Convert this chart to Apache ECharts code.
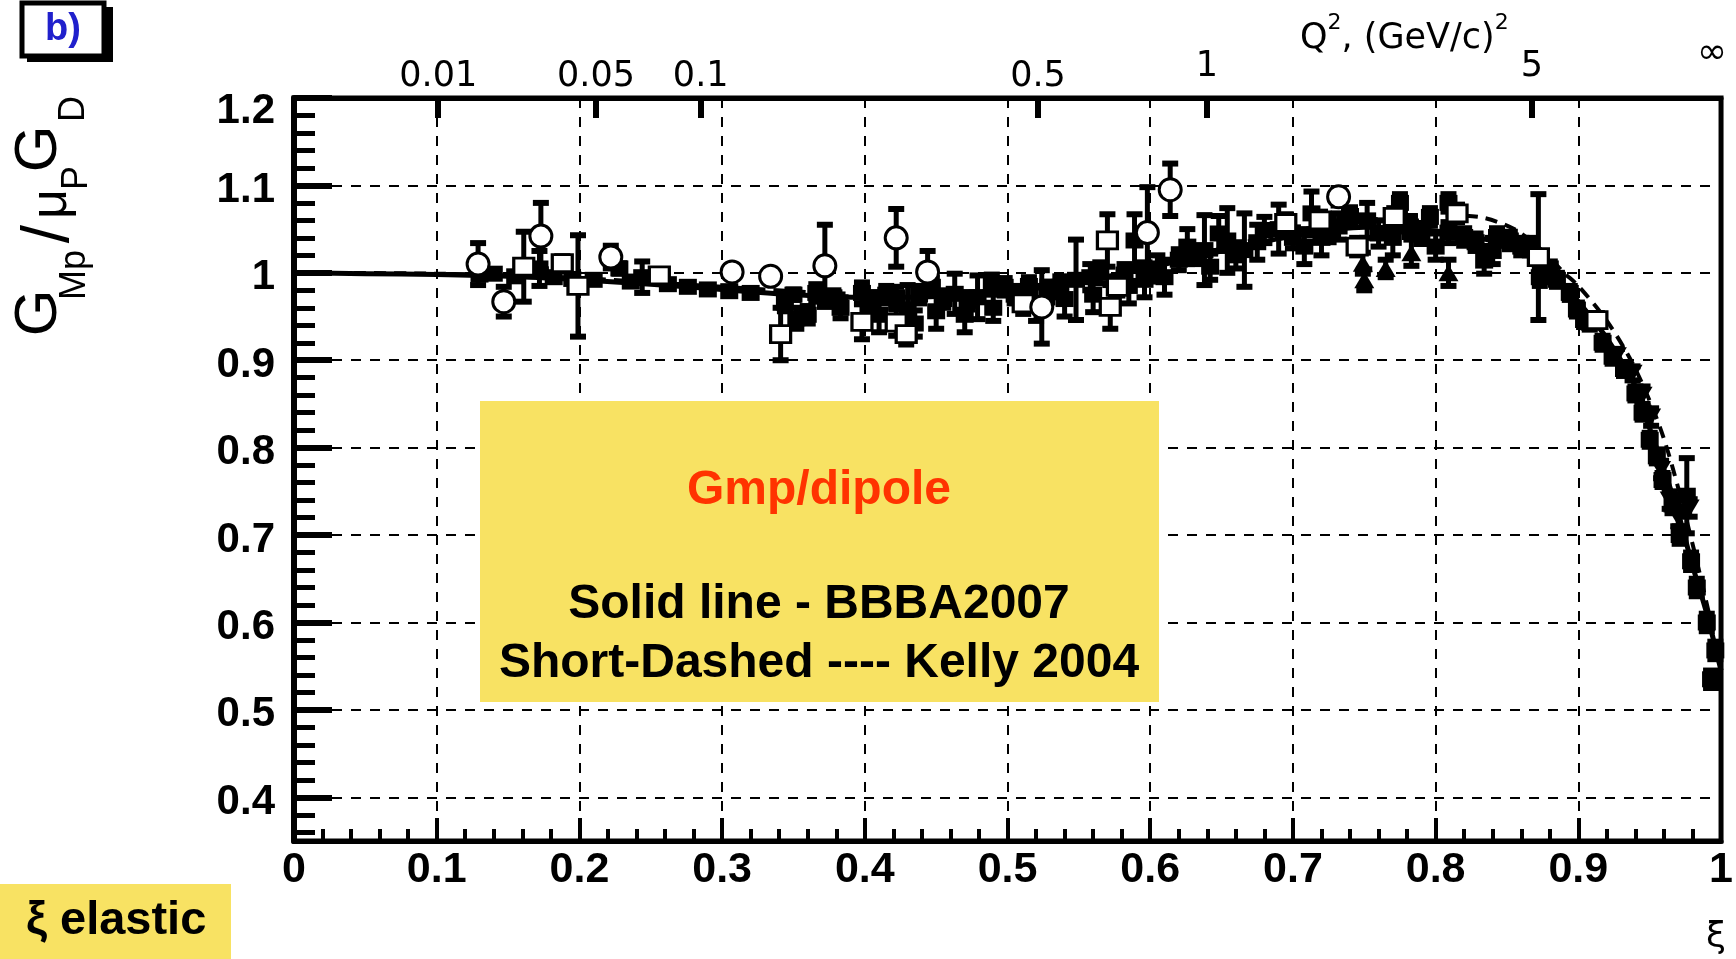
<!DOCTYPE html>
<html><head><meta charset="utf-8">
<script src="https://cdn.jsdelivr.net/npm/echarts@6/dist/echarts.min.js"></script>
<style>html,body{margin:0;padding:0;background:#fff}#c{width:1736px;height:959px}</style>
</head><body><div id="c"></div>
<script>
// ---------- data ----------
const yTickValues = [0.4, 0.5, 0.6, 0.7, 0.8, 0.9, 1, 1.1, 1.2];
const q2TickValues = [0.01, 0.05, 0.1, 0.5, 1, 5];
const q2TickLabels = ['0.01', '0.05', '0.1', '0.5', '1', '5'];

// [xi, GMp/muGD, error]
const openCircles = [
  [0.129,1.010,0.024],[0.147,0.967,0.017],[0.173,1.042,0.038],[0.222,1.018,0.013],
  [0.307,1.001,0.005],[0.334,0.996,0.005],[0.372,1.008,0.047],[0.422,1.040,0.033],
  [0.444,1.001,0.024],[0.524,0.961,0.042],[0.598,1.046,0.052],[0.614,1.095,0.030],
  [0.732,1.087,0.010]
];
const openSquares = [
  [0.161,1.007,0.040],[0.188,1.011,0.008],[0.199,0.985,0.058],[0.256,0.997,0.006],
  [0.341,0.930,0.030],[0.398,0.944,0.020],[0.422,0.943,0.015],[0.429,0.930,0.012],
  [0.511,0.965,0.012],[0.570,1.037,0.030],[0.572,0.961,0.025],[0.577,0.984,0.010],
  [0.695,1.057,0.010],[0.719,1.060,0.010],[0.745,1.030,0.010],[0.771,1.064,0.010],
  [0.815,1.068,0.010],[0.872,1.018,0.072],[0.913,0.946,0.008]
];
const filledSquares = [
  [0.130,0.998,0.004],[0.140,0.999,0.004],[0.155,0.996,0.004],[0.172,1.005,0.020],
  [0.182,0.995,0.004],[0.195,0.993,0.004],[0.210,0.992,0.004],[0.228,1.005,0.006],
  [0.236,0.990,0.004],[0.244,0.995,0.018],[0.262,0.987,0.004],[0.276,0.984,0.004],
  [0.290,0.981,0.004],[0.305,0.979,0.004],[0.320,0.977,0.004],[0.344,0.966,0.010],
  [0.350,0.975,0.006],[0.352,0.948,0.012],[0.360,0.952,0.010],[0.366,0.977,0.010],
  [0.378,0.972,0.008],[0.383,0.960,0.012],[0.398,0.977,0.012],[0.405,0.968,0.010],
  [0.410,0.952,0.020],[0.415,0.975,0.010],[0.422,0.972,0.012],[0.430,0.958,0.028],
  [0.435,0.942,0.015],[0.438,0.975,0.010],[0.447,0.984,0.010],[0.450,0.956,0.020],
  [0.455,0.970,0.010],[0.463,0.976,0.023],[0.470,0.952,0.020],[0.472,0.968,0.010],
  [0.479,0.972,0.025],[0.489,0.988,0.010],[0.490,0.960,0.015],[0.498,0.984,0.010],
  [0.505,0.975,0.010],[0.515,0.985,0.010],[0.520,0.965,0.020],[0.528,0.978,0.012],
  [0.537,0.984,0.012],[0.540,0.970,0.020],[0.548,0.992,0.046],[0.558,0.995,0.015],
  [0.560,0.975,0.020],[0.565,1.000,0.012],[0.582,0.998,0.012],[0.585,0.985,0.020],
  [0.589,1.037,0.030],[0.596,0.992,0.020],[0.605,1.005,0.015],[0.610,0.995,0.020],
  [0.620,1.015,0.012],[0.626,1.030,0.020],[0.632,1.020,0.010],[0.638,1.026,0.040],
  [0.642,1.007,0.015],[0.648,1.045,0.020],[0.654,1.037,0.037],[0.660,1.020,0.015],
  [0.666,1.026,0.042],[0.675,1.035,0.020],[0.680,1.049,0.015],[0.690,1.050,0.028],
  [0.700,1.040,0.012],[0.708,1.030,0.020],[0.713,1.068,0.025],[0.720,1.040,0.020],
  [0.725,1.050,0.015],[0.732,1.053,0.015],[0.740,1.065,0.010],[0.752,1.060,0.020],
  [0.760,1.045,0.015],[0.770,1.040,0.020],[0.775,1.080,0.010],[0.782,1.053,0.012],
  [0.790,1.045,0.012],[0.796,1.064,0.010],[0.800,1.030,0.015],[0.809,1.080,0.010],
  [0.809,1.046,0.012],[0.820,1.041,0.010],[0.828,1.035,0.010],[0.834,1.014,0.015],
  [0.840,1.025,0.015],[0.843,1.041,0.010],[0.852,1.037,0.010],[0.860,1.030,0.010],
  [0.866,1.030,0.010],[0.873,0.995,0.010],[0.880,1.005,0.008],[0.885,0.992,0.008],
  [0.894,0.977,0.008],[0.899,0.958,0.008],[0.904,0.946,0.008],[0.908,0.943,0.008],
  [0.917,0.920,0.008],[0.924,0.904,0.008],[0.932,0.890,0.008],[0.940,0.862,0.008],
  [0.945,0.840,0.008],[0.950,0.809,0.008],[0.955,0.790,0.008],[0.959,0.763,0.008],
  [0.966,0.735,0.010],[0.971,0.700,0.010],[0.976,0.745,0.043],[0.979,0.670,0.010],
  [0.983,0.640,0.010],[0.990,0.600,0.010],[0.993,0.535,0.010],[0.996,0.568,0.010]
];
const filledTriangles = [
  [0.749,1.011,0.012],[0.750,0.992,0.012],[0.765,1.005,0.010],[0.783,1.023,0.015],
  [0.809,1.000,0.015]
];
const invTriangles = [
  [0.927,0.905,0.008],[0.938,0.885,0.008],[0.945,0.860,0.010],[0.951,0.835,0.010],
  [0.958,0.775,0.010],[0.964,0.740,0.010],[0.970,0.720,0.010],[0.978,0.731,0.010]
];

// Fits
const bbbaXi  = [0, 0.05, 0.1, 0.15, 0.2, 0.25, 0.3, 0.35, 0.4, 0.45, 0.5, 0.55, 0.6, 0.65, 0.7, 0.75, 0.8, 0.83, 0.86, 0.87, 0.88, 0.89, 0.9, 0.92, 0.94, 0.95, 0.96, 0.97, 0.98, 0.99, 1.0];
const bbbaVal = [1.0, 0.999, 0.998, 0.996, 0.992, 0.987, 0.981, 0.975, 0.972, 0.973, 0.978, 0.990, 1.006, 1.025, 1.042, 1.052, 1.048, 1.040, 1.027, 1.015, 1.000, 0.985, 0.967, 0.925, 0.870, 0.822, 0.775, 0.725, 0.665, 0.610, 0.545];
const kellyXi  = [0, 0.1, 0.2, 0.3, 0.4, 0.5, 0.6, 0.65, 0.7, 0.75, 0.8, 0.83, 0.855, 0.875, 0.89, 0.9, 0.92, 0.94, 0.96, 0.98, 1.0];
const kellyVal = [1.0, 0.999, 0.994, 0.984, 0.976, 0.981, 1.005, 1.028, 1.048, 1.060, 1.066, 1.064, 1.050, 1.025, 1.000, 0.985, 0.945, 0.890, 0.810, 0.690, 0.550];

// ---------- helpers ----------
const Mp = 0.938272;
function xiFromQ2(q2) { return 2 / (1 + Math.sqrt(1 + 4 * Mp * Mp / q2)); }
const q2TickXi = q2TickValues.map(xiFromQ2);
const yMinor = [];
for (let k = 18; k <= 59; k++) { if (k % 5 !== 0) yMinor.push(k / 50); }

function errSeries(data, z) {
  return {
    type: 'custom', z: z, data: data, encode: { x: 0, y: 1 },
    renderItem: function (params, api) {
      const x = api.value(0), y = api.value(1), e = api.value(2);
      const t = api.coord([x, y + e]), b = api.coord([x, y - e]);
      return { type: 'group', children: [
        { type: 'line', shape: { x1: t[0], y1: t[1], x2: b[0], y2: b[1] }, style: { stroke: '#000', lineWidth: 5 } },
        { type: 'rect', shape: { x: t[0] - 8, y: t[1] - 3, width: 16, height: 6 }, style: { fill: '#000' } },
        { type: 'rect', shape: { x: b[0] - 8, y: b[1] - 3, width: 16, height: 6 }, style: { fill: '#000' } }
      ]};
    }
  };
}
function markSeries(data, symbol, size, filled, z, rot) {
  return {
    type: 'scatter', z: z, symbol: symbol, symbolSize: size, symbolRotate: rot || 0,
    data: data.map(d => [d[0], d[1]]),
    itemStyle: filled ? { color: '#000', opacity: 1 } : { color: '#fff', borderColor: '#000', borderWidth: 3, opacity: 1 },
    emphasis: { disabled: true }
  };
}

const chart = echarts.init(document.getElementById('c'), null, { renderer: 'canvas' });
const boldLab = { fontFamily: 'Liberation Sans', fontWeight: 'bold', fontSize: 42, color: '#000' };

chart.setOption({
  animation: false,
  backgroundColor: '#fff',
  grid: { left: 294, right: 11, top: 98, bottom: 118, show: true, borderColor: '#000', borderWidth: 5, backgroundColor: 'transparent' },
  xAxis: [
    {
      type: 'value', min: 0, max: 1, interval: 0.1, position: 'bottom',
      axisLine: { show: true, onZero: false, lineStyle: { color: '#000', width: 5 } },
      axisTick: { show: true, inside: true, length: 23, lineStyle: { color: '#000', width: 4 } },
      minorTick: { show: true, splitNumber: 5, length: 12, lineStyle: { color: '#000', width: 4 } },
      splitLine: { show: true, lineStyle: { color: '#000', width: 2, type: [10, 9] } },
      axisLabel: Object.assign({ margin: 8 }, boldLab, { fontSize: 43 })
    },
    {
      type: 'value', min: 0, max: 1, position: 'top',
      axisLine: { show: true, onZero: false, lineStyle: { color: '#000', width: 5 } },
      axisTick: { show: true, inside: true, length: 20, customValues: q2TickXi, lineStyle: { color: '#000', width: 6 } },
      axisLabel: {
        show: true, customValues: q2TickXi, margin: 4, color: '#000', fontFamily: 'DejaVu Sans', fontSize: 35,
        formatter: function (v) {
          let best = 0, bd = 1e9;
          q2TickXi.forEach((x, i) => { const d = Math.abs(x - v); if (d < bd) { bd = d; best = i; } });
          const lab = q2TickLabels[best];
          return (q2TickValues[best] >= 1) ? '{hi|' + lab + '}' : '{lo|' + lab + '}';
        },
        rich: {
          hi: { fontFamily: 'DejaVu Sans', fontSize: 35, color: '#000', padding: [0, 0, 10, 0] },
          lo: { fontFamily: 'DejaVu Sans', fontSize: 35, color: '#000' }
        }
      },
      splitLine: { show: false }
    }
  ],
  yAxis: [
    {
      type: 'value', min: 0.35, max: 1.2, position: 'left',
      axisLine: { show: true, onZero: false, lineStyle: { color: '#000', width: 6 } },
      axisTick: { show: true, inside: true, length: 38, customValues: yTickValues, lineStyle: { color: '#000', width: 6 } },
      axisLabel: {
        customValues: yTickValues, margin: 19,
        formatter: function (v) { return (Math.abs(v - 1.2) < 1e-6 ? '{t|' : '{n|') + v + '}'; },
        rich: {
          n: Object.assign({ padding: [10, 0, 0, 0] }, boldLab),
          t: Object.assign({ padding: [26, 0, 0, 0] }, boldLab)
        }
      },
      splitLine: { show: true, lineStyle: { color: '#000', width: 2, type: [10, 9] } }
    },
    {
      type: 'value', min: 0.35, max: 1.2, position: 'left', offset: 0,
      axisLine: { show: false },
      axisTick: { show: true, inside: true, length: 21, customValues: yMinor, lineStyle: { color: '#000', width: 5 } },
      axisLabel: { show: false },
      splitLine: { show: false }
    }
  ],
  series: [
    { type: 'line', z: 2, data: kellyXi.map((x, i) => [x, kellyVal[i]]), symbol: 'none', smooth: 0.3,
      lineStyle: { color: '#000', width: 4, type: [12, 8] }, emphasis: { disabled: true } },
    { type: 'line', z: 2, data: bbbaXi.map((x, i) => [x, bbbaVal[i]]), symbol: 'none', smooth: 0.3,
      lineStyle: { color: '#000', width: 5 }, emphasis: { disabled: true } },
    errSeries(filledSquares, 3), errSeries(openSquares, 3), errSeries(openCircles, 3),
    errSeries(filledTriangles, 3), errSeries(invTriangles, 3),
    markSeries(filledSquares, 'rect', [18, 16], true, 4),
    markSeries(openSquares, 'rect', [20, 17], false, 5),
    markSeries(openCircles, 'circle', 22, false, 5),
    markSeries(filledTriangles, 'triangle', [20, 17], true, 5),
    markSeries(invTriangles, 'triangle', [20, 17], true, 5, 180)
  ],
  graphic: [
    // b) box
    { type: 'rect', z: 50, shape: { x: 27, y: 7, width: 86, height: 55 }, style: { fill: '#000' } },
    { type: 'rect', z: 51, shape: { x: 22, y: 3, width: 82, height: 53 }, style: { fill: '#fff', stroke: '#000', lineWidth: 5 } },
    { type: 'text', z: 52, x: 63, y: 30, style: { text: 'b)', fontFamily: 'Liberation Sans', fontWeight: 'bold', fontSize: 38, fill: '#2020cc', align: 'center', verticalAlign: 'middle' } },
    // y-axis title pieces (rotated)
    { type: 'text', z: 50, x: 39, y: 313, rotation: Math.PI / 2, style: { text: 'G', fontFamily: 'Liberation Sans', fontSize: 60, fill: '#000', align: 'center', verticalAlign: 'middle' } },
    { type: 'text', z: 50, x: 75, y: 275, rotation: Math.PI / 2, style: { text: 'Mp', fontFamily: 'Liberation Sans', fontSize: 36, fill: '#000', align: 'center', verticalAlign: 'middle' } },
    { type: 'text', z: 50, x: 50, y: 234, rotation: Math.PI / 2, style: { text: '/', fontFamily: 'Liberation Sans', fontSize: 66, fill: '#000', align: 'center', verticalAlign: 'middle' } },
    { type: 'text', z: 50, x: 52, y: 204, rotation: Math.PI / 2, style: { text: 'μ', fontFamily: 'Liberation Sans', fontSize: 52, fill: '#000', align: 'center', verticalAlign: 'middle' } },
    { type: 'text', z: 50, x: 77, y: 178, rotation: Math.PI / 2, style: { text: 'P', fontFamily: 'Liberation Sans', fontSize: 36, fill: '#000', align: 'center', verticalAlign: 'middle' } },
    { type: 'text', z: 50, x: 39, y: 149, rotation: Math.PI / 2, style: { text: 'G', fontFamily: 'Liberation Sans', fontSize: 60, fill: '#000', align: 'center', verticalAlign: 'middle' } },
    { type: 'text', z: 50, x: 74, y: 109, rotation: Math.PI / 2, style: { text: 'D', fontFamily: 'Liberation Sans', fontSize: 36, fill: '#000', align: 'center', verticalAlign: 'middle' } },
    // Q^2 title
    { type: 'text', z: 50, x: 1300, y: 34, style: {
        text: '{m|Q}{s|2}{m|, (GeV/c)}{s|2}', align: 'left', verticalAlign: 'middle',
        rich: {
          m: { fontFamily: 'DejaVu Sans', fontSize: 35, lineHeight: 44, verticalAlign: 'bottom', fill: '#000' },
          s: { fontFamily: 'DejaVu Sans', fontSize: 22, lineHeight: 22, verticalAlign: 'top', fill: '#000' }
        } } },
    { type: 'text', z: 50, x: 1712, y: 54, style: { text: '∞', fontFamily: 'DejaVu Sans', fontSize: 36, fill: '#000', align: 'center', verticalAlign: 'middle' } },
    // xi label on the right below axis
    { type: 'text', z: 50, x: 1716, y: 938, style: { text: 'ξ', fontFamily: 'DejaVu Sans', fontSize: 36, fill: '#000', align: 'center', verticalAlign: 'middle' } },
    // yellow legend box
    { type: 'rect', z: 100, shape: { x: 480, y: 401, width: 679, height: 301 }, style: { fill: '#F8E263' } },
    { type: 'text', z: 101, x: 819, y: 491, style: { text: 'Gmp/dipole', fontFamily: 'Liberation Sans', fontWeight: 'bold', fontSize: 48, fill: '#FF3300', align: 'center', verticalAlign: 'middle' } },
    { type: 'text', z: 101, x: 819, y: 605, style: { text: 'Solid line - BBBA2007', fontFamily: 'Liberation Sans', fontWeight: 'bold', fontSize: 48, fill: '#000', align: 'center', verticalAlign: 'middle' } },
    { type: 'text', z: 101, x: 819, y: 664, style: { text: 'Short-Dashed ---- Kelly 2004', fontFamily: 'Liberation Sans', fontWeight: 'bold', fontSize: 48, fill: '#000', align: 'center', verticalAlign: 'middle' } },
    // xi elastic box
    { type: 'rect', z: 100, shape: { x: 0, y: 884, width: 231, height: 75 }, style: { fill: '#F8E263' } },
    { type: 'text', z: 101, x: 26, y: 921, style: { text: 'ξ elastic', fontFamily: 'Liberation Sans', fontWeight: 'bold', fontSize: 47, fill: '#000', align: 'left', verticalAlign: 'middle' } }
  ]
});
</script></body></html>
